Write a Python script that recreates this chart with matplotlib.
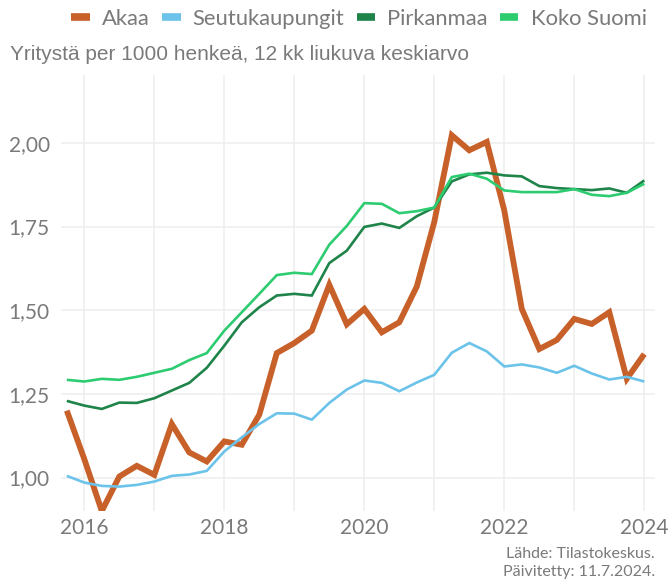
import matplotlib
matplotlib.use("Agg")
import matplotlib.pyplot as plt
from matplotlib.ticker import FixedLocator, FuncFormatter
from matplotlib.lines import Line2D

years = [2015.75 + 0.25 * i for i in range(34)]

akaa = [1.200, 1.055, 0.900, 1.003, 1.035, 1.008, 1.160, 1.075, 1.048, 1.108,
        1.098, 1.188, 1.372, 1.402, 1.439, 1.576, 1.458, 1.504, 1.434, 1.464,
        1.571, 1.764, 2.023, 1.978, 2.003, 1.798, 1.504, 1.384, 1.411, 1.474,
        1.459, 1.494, 1.295, 1.369]
seutu = [1.005, 0.985, 0.975, 0.973, 0.978, 0.988, 1.005, 1.009, 1.020, 1.078,
         1.120, 1.160, 1.192, 1.191, 1.173, 1.223, 1.263, 1.290, 1.283, 1.258,
         1.284, 1.307, 1.373, 1.402, 1.377, 1.332, 1.338, 1.329, 1.313, 1.334,
         1.311, 1.293, 1.301, 1.287]
pirkanmaa = [1.229, 1.215, 1.205, 1.224, 1.223, 1.237, 1.260, 1.283, 1.328, 1.394,
             1.464, 1.509, 1.544, 1.549, 1.544, 1.641, 1.678, 1.749, 1.759, 1.746,
             1.781, 1.807, 1.885, 1.906, 1.911, 1.903, 1.900, 1.871, 1.865, 1.862,
             1.859, 1.864, 1.851, 1.888]
koko = [1.292, 1.287, 1.295, 1.292, 1.301, 1.313, 1.325, 1.351, 1.372, 1.439,
        1.494, 1.549, 1.605, 1.612, 1.608, 1.696, 1.752, 1.820, 1.818, 1.790,
        1.796, 1.807, 1.898, 1.908, 1.893, 1.858, 1.853, 1.853, 1.853, 1.862,
        1.845, 1.841, 1.851, 1.878]

series_names = ["Akaa", "Seutukaupungit", "Pirkanmaa", "Koko Suomi"]
colors = ["#C8602A", "#6CC3EA", "#1E8449", "#2ECC71"]
widths = [4.2, 1.9, 1.9, 1.9]

y_ticks = [1.00, 1.25, 1.50, 1.75, 2.00]
x_ticks = [2016, 2018, 2020, 2022, 2024]
x_minor = [2017, 2019, 2021, 2023]

txt = "#7A7A7A"
font = "Lato"

fig = plt.figure(figsize=(6.69, 5.81), dpi=100)
ax = fig.add_axes([61/669, 1 - 511/581, (655 - 61)/669, (511 - 75)/581])

data = [akaa, seutu, pirkanmaa, koko]
for i in range(4):
    ax.plot(years, data[i], color=colors[i], lw=widths[i], solid_joinstyle="miter",
            solid_capstyle="butt", zorder=3 + i, clip_on=True)

ax.set_xlim(2015.667, 2024.153)
ax.set_ylim(0.90, 2.203)
ax.yaxis.set_major_locator(FixedLocator(y_ticks))
ax.xaxis.set_major_locator(FixedLocator(x_ticks))
ax.xaxis.set_minor_locator(FixedLocator(x_minor))
ax.yaxis.set_major_formatter(FuncFormatter(lambda v, p: f"{v:.2f}".replace(".", ",")))
ax.xaxis.set_major_formatter(FuncFormatter(lambda v, p: f"{int(v)}"))

ax.grid(True, which="major", color="#EEEEEE", lw=1.1, zorder=0)
ax.grid(True, which="minor", axis="x", color="#EEEEEE", lw=1.1, zorder=0)
for s in ax.spines.values():
    s.set_visible(False)
ax.tick_params(which="both", length=0)
ax.tick_params(axis="y", pad=8, labelsize=15, labelcolor=txt)
ax.tick_params(axis="x", pad=5, labelsize=15, labelcolor=txt)
for lab in ax.get_xticklabels() + ax.get_yticklabels():
    lab.set_fontfamily(font)

handles = [Line2D([0], [0], color=c, lw=5.5, solid_capstyle="butt") for c in colors]
leg = fig.legend(handles, series_names, loc="center", bbox_to_anchor=(359/669, 1 - 19/581),
                 ncol=4, frameon=False, handlelength=0.85, handletextpad=0.55,
                 columnspacing=0.55, prop={"family": font, "size": 15.8})
for t in leg.get_texts():
    t.set_color(txt)

fig.text(10/669, 1 - 55/581, "Yritystä per 1000 henkeä, 12 kk liukuva keskiarvo",
         fontfamily="Liberation Sans", fontsize=15, color=txt, va="center", ha="left")

fig.text(655/669, 1 - 554/581, "Lähde: Tilastokeskus.", fontfamily=font, fontsize=11.5,
         color=txt, ha="right", va="center")
fig.text(655/669, 1 - 572/581, "Päivitetty: 11.7.2024.", fontfamily=font, fontsize=11.5,
         color=txt, ha="right", va="center")

fig.savefig("out.png", dpi=100, facecolor="white")
